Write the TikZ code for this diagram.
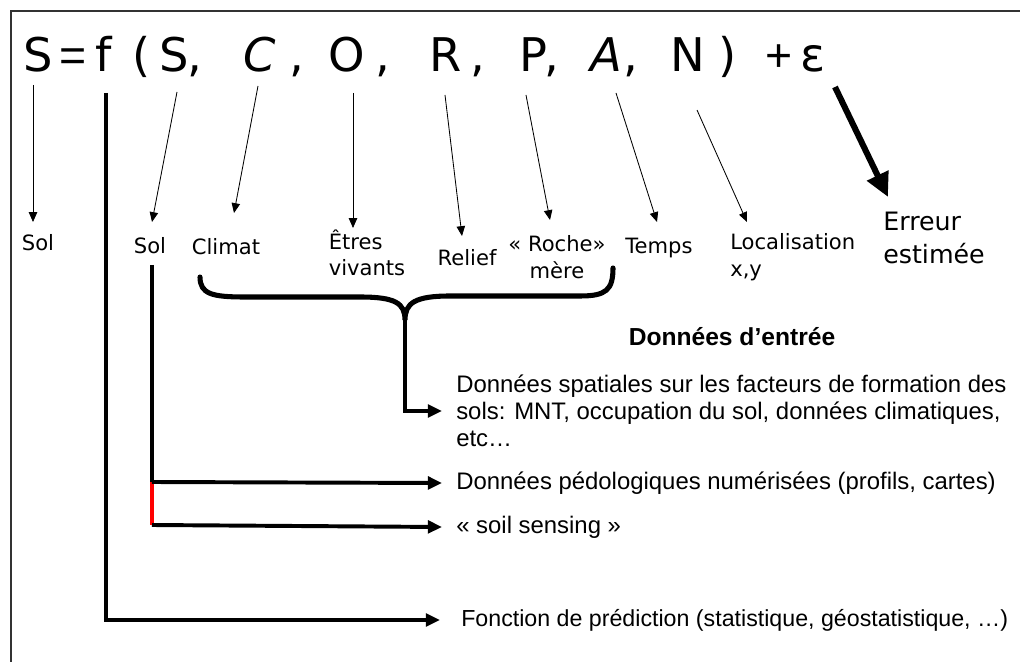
\documentclass[tikz,border=0pt]{standalone}
\usepackage{fontspec}
\setmainfont{Liberation Sans}
\newfontfamily\comicfont{DejaVu Sans}
\usetikzlibrary{arrows.meta}

\definecolor{framegray}{RGB}{50,50,50}

\tikzset{
  thinarrow/.style={-{Triangle[length=7pt,width=6pt]}, line width=0.6pt},
  boldarrow/.style={-{Triangle[length=10pt,width=9pt]}, line width=2.8pt},
  boldline/.style={line width=2.8pt},
  symb/.style={font=\comicfont\fontsize{33}{33}\selectfont, inner sep=0pt, anchor=base},
  lab/.style={font=\comicfont\fontsize{15}{19}\selectfont, inner sep=0pt},
  txt/.style={font=\fontsize{17}{18}\selectfont, inner sep=0pt, anchor=west, align=left},
}

\begin{document}
\begin{tikzpicture}[x=0.025cm,y=-0.025cm]
\useasboundingbox (0,0) rectangle (1020,662);

\draw[framegray, line width=1pt] (11,662) -- (11,11) -- (1020,11);

% the formula
\foreach \px/\sy [count=\i] in {38/S, 73/{\rmfamily=}, 104/f, 142/(, 174/S, 195/{,}, 260/{\itshape C}, 297/{,},
  347/O, 383/{,}, 446/R, 478/{,}, 533/P, 552/{,}, 606/{\itshape A}, 631/{,}, 688/N, 728/),
  779/{\rmfamily+}, 813/ε}
  \node[symb] (sy\i) at (\px,72) {\sy};

% labels
\node[lab] (solA) at (38,243) {Sol};
\node[lab] (solB) at (150,246) {Sol};
\node[lab] (clim) at (226,247) {Climat};
\node[lab, align=left] (etres) at (367,253) {Êtres\\vivants};
\node[lab] (relief) at (467,258) {Relief};
\node[lab, align=center] (roche) at (557,257) {« Roche»\\mère};
\node[lab] (temps) at (659,248) {Temps};
\node[lab, align=left, anchor=west] (loc) at (730,257) {Localisation\\x,y};
\node[lab, align=left, anchor=west, font=\comicfont\fontsize{18}{23}\selectfont] (err) at (883,238) {Erreur\\estimée};

\coordinate (aS1) at (33,85);   \coordinate (bS1) at (33,222);
\coordinate (aS2) at (177,92);  \coordinate (bS2) at (152,222);
\coordinate (aC) at (258,86);   \coordinate (bC) at (234,213);
\coordinate (aO) at (353,93);   \coordinate (bO) at (353,228);
\coordinate (aR) at (445,95);   \coordinate (bR) at (462,236);
\coordinate (aP) at (526,95);   \coordinate (bP) at (550,220);
\coordinate (aA) at (616,93);   \coordinate (bA) at (657,222);
\coordinate (aN) at (697,110);  \coordinate (bN) at (747,222);
\coordinate (aE) at (835,87);   \coordinate (bE) at (888,197);

\draw[thinarrow] (aS1) -- (bS1);
\draw[thinarrow] (aS2) -- (bS2);
\draw[thinarrow] (aC) -- (bC);
\draw[thinarrow] (aO) -- (bO);
\draw[thinarrow] (aR) -- (bR);
\draw[thinarrow] (aP) -- (bP);
\draw[thinarrow] (aA) -- (bA);
\draw[thinarrow] (aN) -- (bN);
\draw[-{Triangle[length=17pt,width=16pt]}, line width=4.3pt] (aE) -- (bE);

% brace over the input factors
\coordinate (cusp) at (405,320);
\draw[line width=3.6pt, line cap=round]
  (200,277) .. controls (200,294) and (212,297) .. (245,297) -- (360,297)
  .. controls (395,297) and (405,303) .. (cusp)
  .. controls (405,303) and (415,296) .. (450,296) -- (580,296)
  .. controls (606,296) and (613,290) .. (613,268);

% inputs
\node[txt, font=\bfseries\fontsize{17.5}{18}\selectfont, anchor=center] (entree) at (732,337) {Données d’entrée};
\node[txt] (spat) at (456,411) {Données spatiales sur les facteurs de formation des\\[1pt]sols: MNT, occupation du sol, données climatiques,\\[1pt]etc…};
\node[txt] (pedo) at (456,483) {Données pédologiques numérisées (profils, cartes)};
\node[txt] (sens) at (456,527) {« soil sensing »};
\node[txt, font=\fontsize{16.5}{18}\selectfont] (pred) at (461,620) {Fonction de prédiction (statistique, géostatistique, …)};

\coordinate (solTop) at (152,265);
\coordinate (solMid) at (152,482);
\coordinate (solBot) at (152,525);
\coordinate (fTop) at (106,93);

\draw[boldarrow] (cusp) |- ([xshift=-10]spat.west);
\draw[boldline] (solTop) -- (solMid);
\draw[red, boldline] (solMid) -- (solBot);
\draw[boldarrow] (solMid) -- ([xshift=-10]pedo.west);
\draw[boldarrow] (solBot) -- ([xshift=-10]sens.west);
\draw[boldarrow] (fTop) |- ([xshift=-15]pred.west);
\end{tikzpicture}
\end{document}
